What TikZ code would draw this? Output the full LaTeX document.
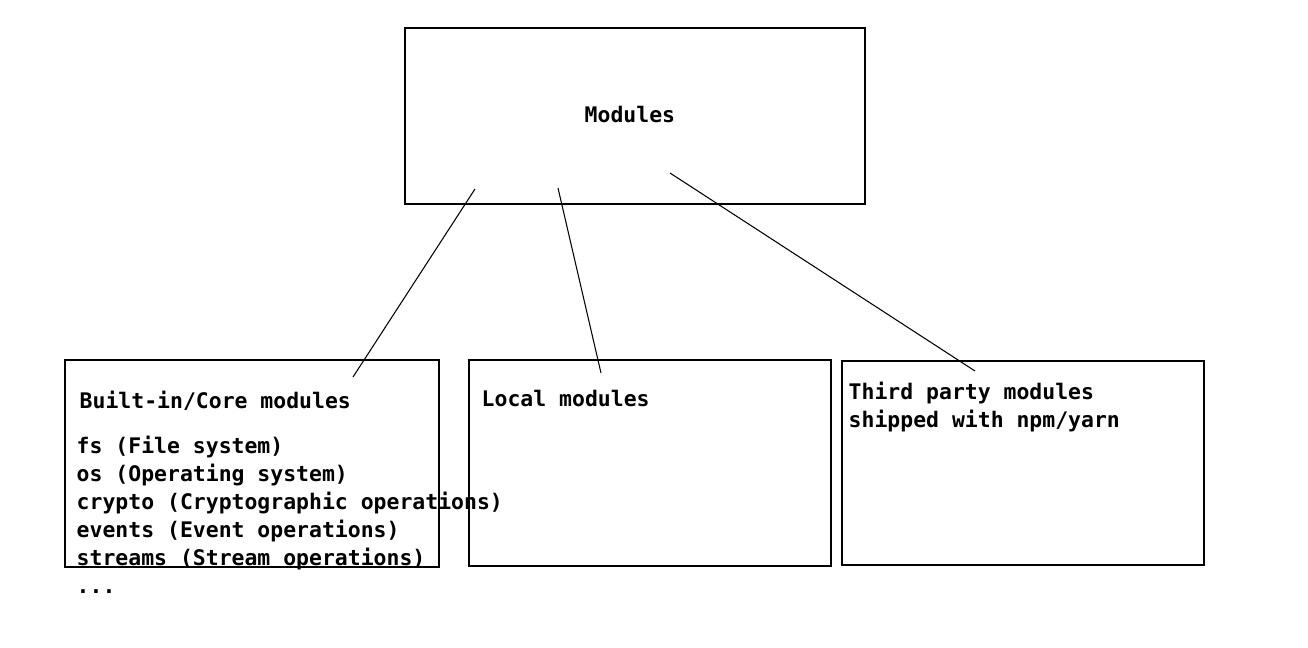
\documentclass[tikz,border=0pt]{standalone}
\usepackage{fontspec}
\setmonofont{DejaVu Sans Mono}
\tikzset{
  modbox/.style={draw, line width=0.4pt, inner sep=0pt},
  lbl/.style={inner sep=0pt, font=\fontsize{6.1pt}{7.97pt}\selectfont\ttfamily\bfseries, align=left},
  link/.style={line width=0.3pt}
}
\begin{document}
\begin{tikzpicture}[x=0.01cm,y=-0.01cm]
    \useasboundingbox (0,0) rectangle (1308,648);

    \node[modbox, minimum width=4.6cm, minimum height=1.76cm](modules) at (635,116){};
    \node[modbox, minimum width=3.74cm, minimum height=2.07cm](core) at (252,463.5){};
    \node[modbox, minimum width=3.62cm, minimum height=2.06cm](local) at (650,463){};
    \node[modbox, minimum width=3.62cm, minimum height=2.04cm](third) at (1023,463){};

    \node[lbl, anchor=base west](modtxt) at (584,122){Modules};
    \node[lbl, anchor=base west](coretxt) at (79,408){Built-in/Core modules};
    \node[lbl, anchor=north west](corelist) at (76,435){fs (File system)\\os (Operating system)\\crypto (Cryptographic operations)\\events (Event operations)\\streams (Stream operations)\\...};
    \node[lbl, anchor=base west](localtxt) at (481,406){Local modules};
    \node[lbl, anchor=north west](thirdtxt) at (848,381){Third party modules\\shipped with npm/yarn};

    % links
    \coordinate (m1) at (475,189);
    \coordinate (m2) at (558,188);
    \coordinate (m3) at (670,173);
    \coordinate (c1) at (353,377);
    \coordinate (l1) at (601,373);
    \coordinate (t1) at (975,371);
    \draw[link](m1)--(c1);
    \draw[link](m2)--(l1);
    \draw[link](m3)--(t1);
\end{tikzpicture}
\end{document}
